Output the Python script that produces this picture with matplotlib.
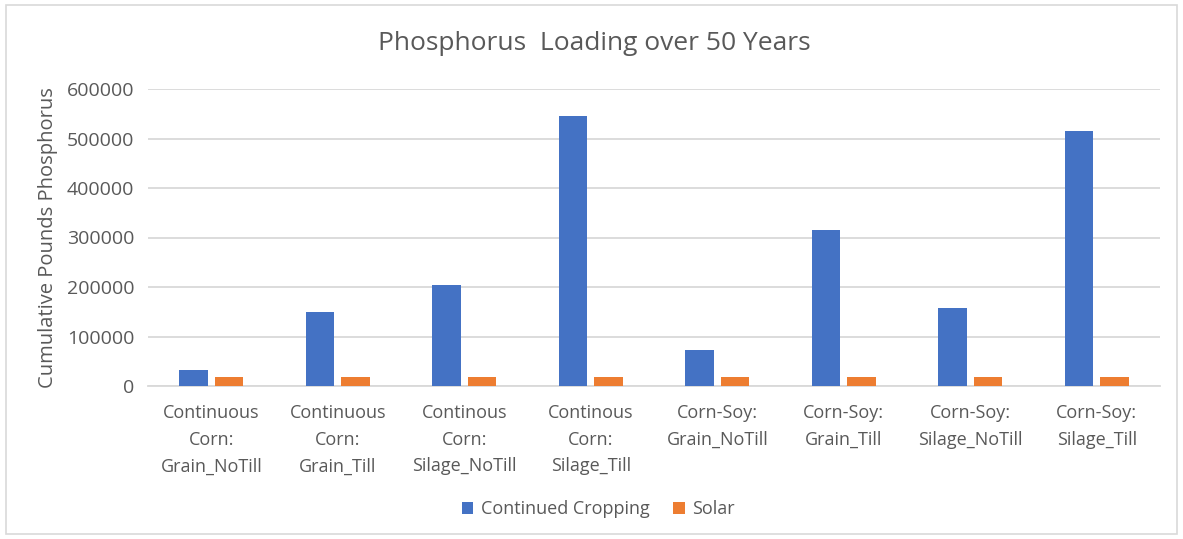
import matplotlib.pyplot as plt
import numpy as np
from matplotlib.patches import Rectangle

plt.rcParams['font.family'] = ['Open Sans', 'DejaVu Sans']

# data
categories = ["Continuous\nCorn:\nGrain_NoTill", "Continuous\nCorn:\nGrain_Till",
              "Continous\nCorn:\nSilage_NoTill", "Continous\nCorn:\nSilage_Till",
              "Corn-Soy:\nGrain_NoTill", "Corn-Soy:\nGrain_Till",
              "Corn-Soy:\nSilage_NoTill", "Corn-Soy:\nSilage_Till"]
continued_cropping = [32400, 150000, 204000, 546000, 72800, 316000, 157500, 515000]
solar = [19000, 19000, 19000, 19000, 19000, 19000, 19000, 19000]
y_ticks = [0, 100000, 200000, 300000, 400000, 500000, 600000]

W, H = 1183, 539
fig = plt.figure(figsize=(W / 100, H / 100), dpi=100)
ax = fig.add_axes([148 / W, 1 - 386 / H, (1160 - 148) / W, (386 - 89) / H])

# outer chart border
fig.patches.append(Rectangle((6 / W, 5 / H), 1171 / W, 529 / H, transform=fig.transFigure,
                             fill=False, edgecolor="#d9d9d9", linewidth=1.2))

x = np.arange(len(categories))
bw = 0.222
ax.bar(x - 0.14, continued_cropping, bw, color="#4472C4", label="Continued Cropping", zorder=3)
ax.bar(x + 0.14, solar, bw, color="#ED7D31", label="Solar", zorder=3)

ax.set_xlim(-0.5, len(categories) - 0.5)
ax.set_ylim(0, 600000)
ax.set_yticks(y_ticks)
ax.set_yticklabels([str(v) for v in y_ticks], fontsize=14)
ax.set_xticks(x)
ax.set_xticklabels(categories, linespacing=1.62, fontsize=13)
ax.tick_params(axis="both", length=0, colors="#595959")
ax.tick_params(axis="x", pad=13)
ax.tick_params(axis="y", pad=10)
ax.grid(axis="y", color="#d9d9d9", linewidth=1.3, zorder=0)
for s in ["top", "right", "left"]:
    ax.spines[s].set_visible(False)
ax.spines["bottom"].set_color("#d9d9d9")
ax.spines["bottom"].set_linewidth(1.3)

ax.set_ylabel("Cumulative Pounds Phosphorus", fontsize=14.5, color="#595959", labelpad=6)
fig.text(594 / W, 1 - 44 / H, "Phosphorus  Loading over 50 Years", ha="center", va="center",
         fontsize=19, color="#595959")

ax.legend(loc="center", bbox_to_anchor=(598 / W, 1 - 509 / H), bbox_transform=fig.transFigure,
          ncol=2, frameon=False, fontsize=13, labelcolor="#595959", handlelength=0.65,
          handleheight=0.65, handletextpad=0.4, columnspacing=1.3)

fig.savefig("out.png", dpi=100)
